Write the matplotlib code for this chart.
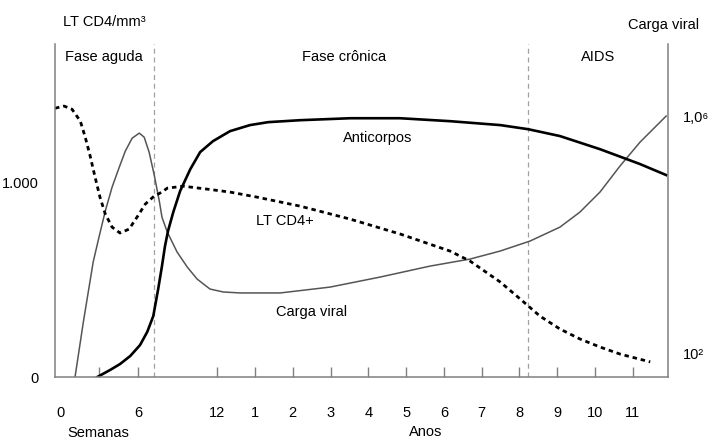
import numpy as np
import matplotlib
matplotlib.use('Agg')
import matplotlib.pyplot as plt

plt.rcParams['font.family'] = ['Liberation Sans', 'DejaVu Sans']
plt.rcParams['font.size'] = 10.5

# x in "years" units (12 weeks sits at 0), y in LT CD4/mm3 units
week_pos = [-4.15, -3.12, -2.09, 0.0]
week_lbl = ['0', '', '6', '12']
year_pos = [1, 2, 3, 4, 5, 6, 7, 8, 9, 10, 11]
year_lbl = ['1', '2', '3', '4', '5', '6', '7', '8', '9', '10', '11']

# curves
cd4_x = [-4.29, -4.05, -3.84, -3.62, -3.49, -3.36, -3.23, -3.10, -2.96, -2.78,
         -2.57, -2.33, -2.12, -1.90, -1.67, -1.46, -1.32, -0.90, -0.26, 0.34,
         1.06, 2.20, 3.52, 4.84, 6.16, 6.69, 7.49, 8.02, 8.54, 9.07,
         9.60, 10.13, 10.66, 11.46]
cd4_y = [1372, 1383, 1367, 1306, 1224, 1128, 1020, 918, 832, 765,
         735, 755, 816, 883, 923, 944, 964, 974, 959, 944,
         918, 872, 806, 730, 643, 592, 485, 398, 311, 245,
         194, 153, 117, 77]

viral_x = [-3.76, -3.54, -3.28, -3.12, -2.96, -2.78, -2.59, -2.43, -2.25, -2.06,
           -1.93, -1.80, -1.67, -1.53, -1.46, -1.32, -1.06, -0.79, -0.53, -0.19,
           0.16, 0.61, 1.67, 2.99, 4.31, 5.63, 6.69, 7.49, 8.28, 9.07,
           9.60, 10.13, 10.66, 11.19, 11.88]
viral_y = [0, 281, 587, 719, 847, 969, 1071, 1153, 1219, 1245,
           1224, 1148, 1036, 898, 816, 740, 638, 561, 500, 449,
           434, 429, 429, 459, 510, 566, 602, 643, 694, 765,
           842, 944, 1077, 1199, 1332]

anti_x = [-3.17, -2.83, -2.57, -2.30, -2.04, -1.85, -1.69, -1.56, -1.46, -1.38,
          -1.30, -1.16, -0.98, -0.71, -0.45, -0.11, 0.34, 0.87, 1.35, 2.20,
          3.52, 4.84, 6.16, 7.49, 8.23, 9.07, 10.13, 11.19, 11.88]
anti_y = [0, 36, 66, 107, 163, 230, 311, 449, 566, 668,
          745, 842, 949, 1061, 1148, 1204, 1255, 1286, 1301, 1311,
          1321, 1321, 1306, 1286, 1265, 1230, 1163, 1087, 1031]

phase_bounds = [-1.67, 8.23]

fig = plt.figure(figsize=(7.08, 4.39), dpi=100)
ax = fig.add_axes([0.0777, 0.139, 0.8658, 0.7585])
ax.set_xlim(-4.29, 11.93)
ax.set_ylim(0, 1700)

for s in ['left', 'right', 'bottom']:
    ax.spines[s].set_color('#808080')
    ax.spines[s].set_linewidth(1.1)
ax.spines['top'].set_visible(False)

for xb in phase_bounds:
    ax.axvline(xb, color='#a0a0a0', lw=0.9, ls=(0, (4, 3)))

ax.plot(viral_x, viral_y, color='#555555', lw=1.1)
ax.plot(anti_x, anti_y, color='black', lw=1.9)
ax.plot(cd4_x, cd4_y, color='black', lw=2.0, ls=(0, (1.6, 1.4)))

ax.set_xticks(week_pos + year_pos)
ax.set_xticklabels(week_lbl + year_lbl)
ax.tick_params(axis='x', direction='in', length=7, width=1.0, color='#808080', pad=20)
ax.xaxis.get_major_ticks()[0].tick1line.set_visible(False)

ax.set_yticks([0, 1000])
ax.set_yticklabels(['0', '1.000'])
ax.tick_params(axis='y', length=0, pad=12)

txt = dict(ha='center', va='center', clip_on=False)
ax.text(-2.99, 1638, 'Fase aguda', **txt)
ax.text(3.36, 1638, 'Fase crônica', **txt)
ax.text(10.08, 1638, 'AIDS', **txt)
ax.text(-2.99, 1816, 'LT CD4/mm³', **txt)
ax.text(11.8, 1800, 'Carga viral', **txt)
ax.text(4.26, 1224, 'Anticorpos', **txt)
ax.text(1.80, 801, 'LT CD4+', **txt)
ax.text(2.51, 337, 'Carga viral', **txt)
ax.text(-3.15, -281, 'Semanas', **txt)
ax.text(5.53, -276, 'Anos', **txt)
ax.text(12.33, 1327, '1,0⁶', ha='left', va='center', clip_on=False)
ax.text(12.33, 117, '10²', ha='left', va='center', clip_on=False)

fig.savefig('out.png', dpi=100)
